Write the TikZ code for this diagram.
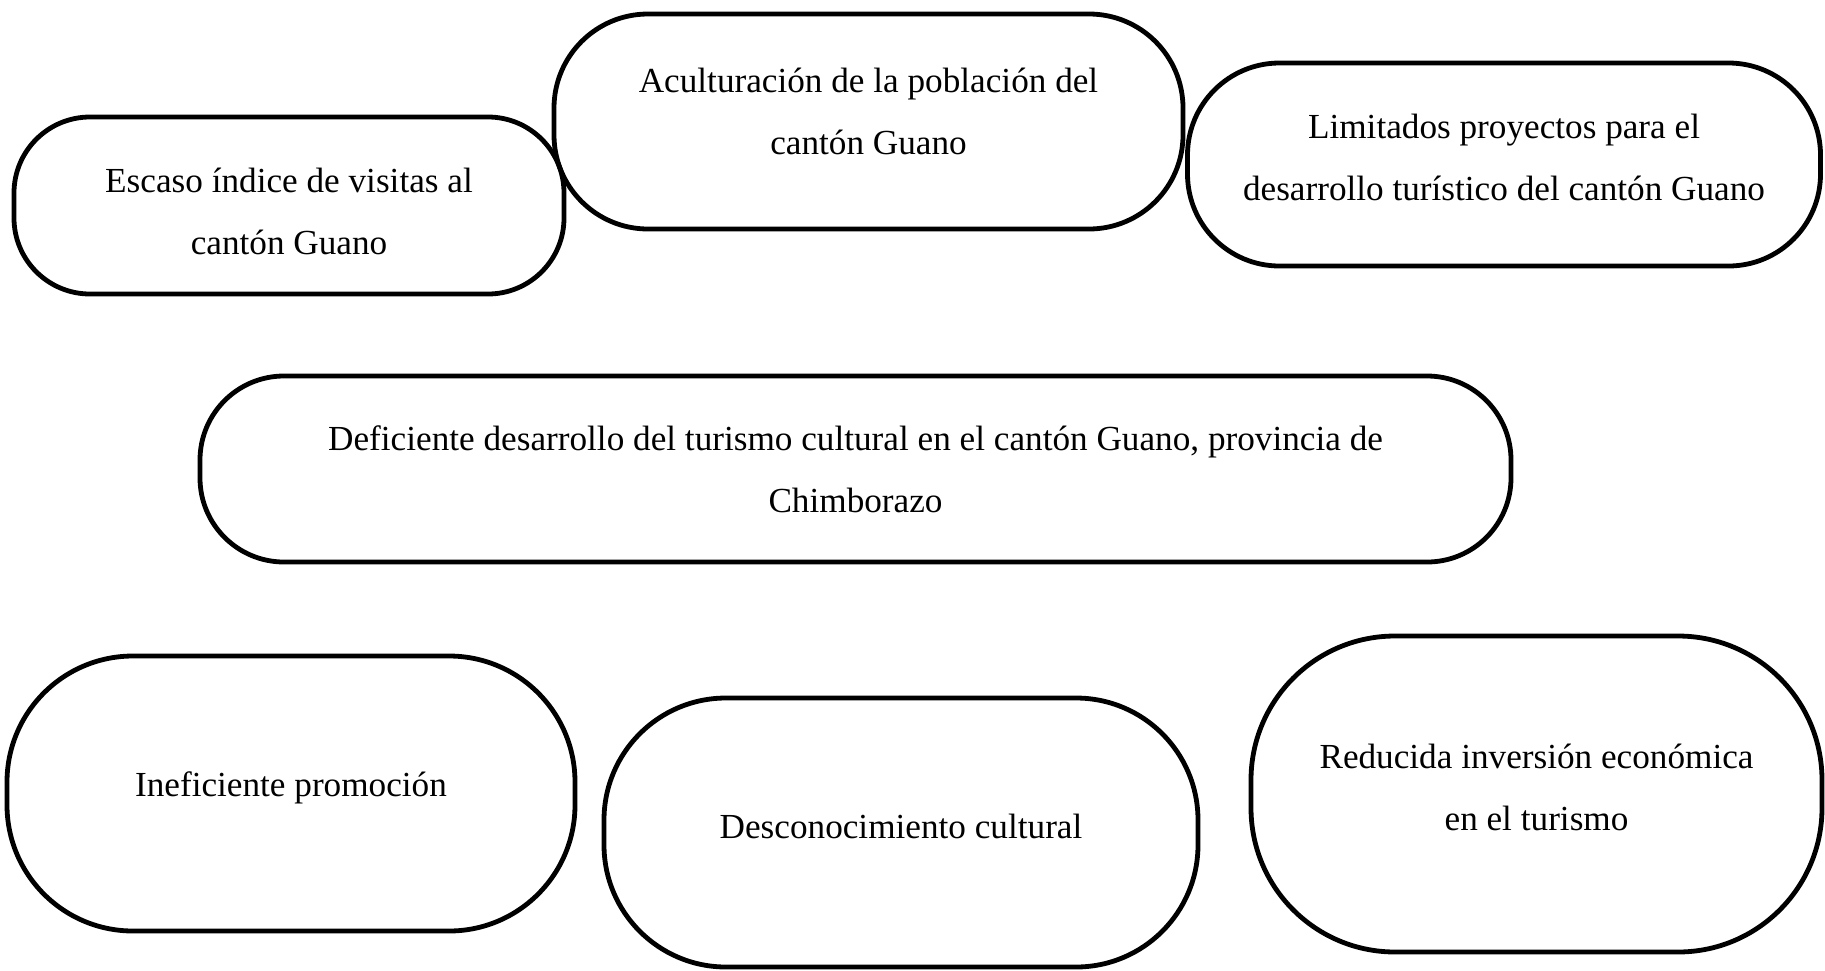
\documentclass[tikz,border=0pt]{standalone}
\usepackage{fontspec}
\setmainfont{Liberation Serif}
\usepackage{tikz}

\begin{document}
\begin{tikzpicture}[
    x=0.5pt, y=-0.5pt,
    pill/.style={draw, line width=2.4pt, align=center, inner sep=0pt, font=\fontsize{17.6}{31}\selectfont},
]
    \useasboundingbox (0,0) rectangle (1825,970);

    % efectos
    \node[pill, minimum width=275pt, minimum height=88.5pt, rounded corners=38pt] (escaso) at (289,205.5) {\rule{0pt}{18pt}Escaso índice de visitas al\\cantón Guano};
    \node[pill, minimum width=314.5pt, minimum height=107.5pt, rounded corners=47pt, text depth=10pt] (acult) at (868.5,121.5) {Aculturación de la población del\\cantón Guano};
    \node[pill, minimum width=316.5pt, minimum height=101.5pt, rounded corners=46pt, text depth=7pt] (limit) at (1504,164.5) {Limitados proyectos para el\\desarrollo turístico del cantón Guano};

    % problema central
    \node[pill, minimum width=655.5pt, minimum height=93pt, rounded corners=42pt] (defic) at (855.5,469) {Deficiente desarrollo del turismo cultural en el cantón Guano, provincia de\\Chimborazo};

    % causas
    \node[pill, minimum width=284pt, minimum height=137.5pt, rounded corners=63pt, text depth=9pt] (inef) at (291,793.5) {Ineficiente promoción};
    \node[pill, minimum width=297pt, minimum height=134.5pt, rounded corners=61pt, text depth=6pt] (descon) at (901,832.5) {Desconocimiento cultural};
    \node[pill, minimum width=285.5pt, minimum height=158pt, rounded corners=72pt, text depth=7pt] (reduc) at (1536.5,794) {Reducida inversión económica\\en el turismo};
\end{tikzpicture}
\end{document}
